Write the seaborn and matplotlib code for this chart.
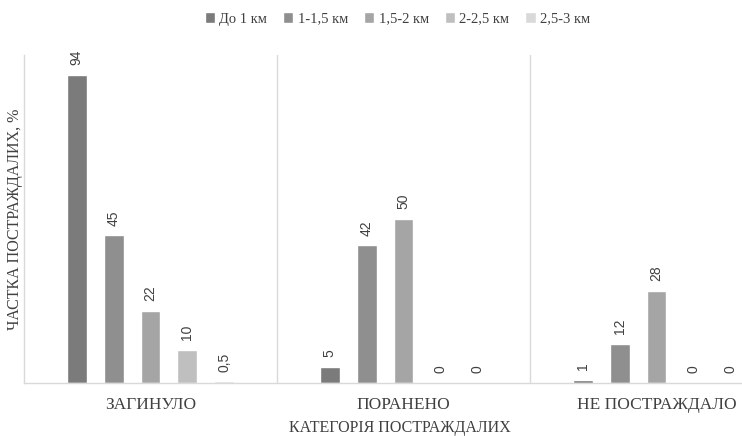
import matplotlib.pyplot as plt
import numpy as np
import pandas as pd
import seaborn as sns

categories = ["ЗАГИНУЛО", "ПОРАНЕНО", "НЕ ПОСТРАЖДАЛО"]
distances = ["До 1 км", "1-1,5 км", "1,5-2 км", "2-2,5 км", "2,5-3 км"]
# values per distance band, in the order of categories
do_1 = [94, 5, 1]
km_1_15 = [45, 42, 12]
km_15_2 = [22, 50, 28]
km_2_25 = [10, 0, 0]
km_25_3 = [0.5, 0, 0]
colors = ["#7b7b7b", "#8f8f8f", "#a5a5a5", "#bfbfbf", "#d9d9d9"]

series = [do_1, km_1_15, km_15_2, km_2_25, km_25_3]
rows = []
for dist, vals in zip(distances, series):
    for cat, v in zip(categories, vals):
        rows.append({"cat": cat, "dist": dist, "val": v})
df = pd.DataFrame(rows)

sns.set_style("white")
plt.rcParams['font.family'] = ['Liberation Serif', 'DejaVu Serif']

fig = plt.figure(figsize=(7.42, 4.36), dpi=100)
ax = fig.add_axes([24 / 742, 53 / 436, 718 / 742, 328 / 436])

sns.barplot(data=df, x="cat", y="val", hue="dist", order=categories,
            hue_order=distances, palette=colors, width=0.73, gap=0.46,
            saturation=1, ax=ax, legend=True)

# data labels
for cont, vals in zip(ax.containers, series):
    labs = [str(v).replace(".", ",") for v in vals]
    ax.bar_label(cont, labels=labs, rotation=90, padding=7, fontsize=10,
                 color="#404040", family="Liberation Sans")

ax.set_xlim(-0.5, -0.5 + 718 / 253)
ax.set_ylim(0, 100)
ax.set_yticks([])
for x in [0.5, 1.5]:
    ax.axvline(x, color="#d9d9d9", lw=1, zorder=0)
for s in ["top", "right"]:
    ax.spines[s].set_visible(False)
for s in ["left", "bottom"]:
    ax.spines[s].set_color("#d9d9d9")
    ax.spines[s].set_linewidth(1)

ax.tick_params(axis="x", length=0, pad=10, labelsize=12.5, colors="#404040")
ax.set_xlabel("КАТЕГОРІЯ ПОСТРАЖДАЛИХ", fontsize=11.5, color="#404040")
ax.xaxis.set_label_coords((400 - 24) / 718, -0.112)
ax.set_ylabel("ЧАСТКА ПОСТРАЖДАЛИХ, %", fontsize=11.5, color="#404040")
ax.yaxis.set_label_coords(-0.002, 0.5)

ax.legend(loc="upper center", bbox_to_anchor=(0.52, 1.17), ncol=5,
          frameon=False, fontsize=10.5, handlelength=0.7, handleheight=0.7,
          handletextpad=0.3, columnspacing=1.1, labelcolor="#404040")

plt.savefig("out.png", dpi=100)
